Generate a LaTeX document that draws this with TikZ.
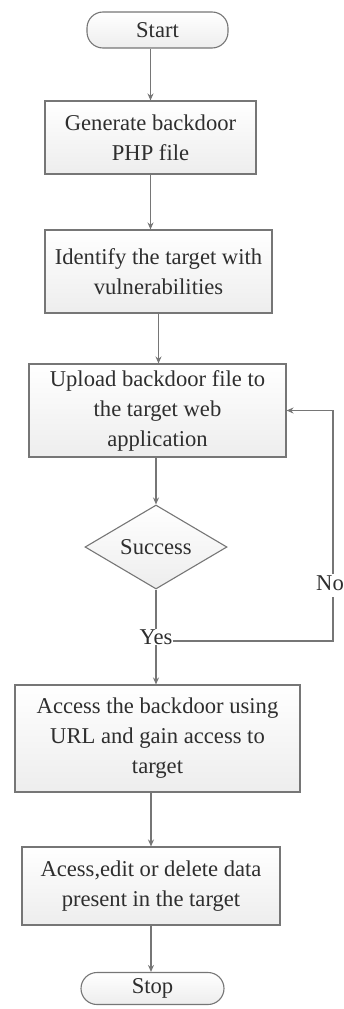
\documentclass[tikz,border=0pt]{standalone}
\usepackage{fontspec}
\setmainfont{Liberation Serif}
\usetikzlibrary{shapes.geometric,arrows.meta}
\definecolor{linegray}{HTML}{767676}
\definecolor{txtgray}{HTML}{2E2E2E}
\begin{document}
\begin{tikzpicture}[x=1pt,y=-1pt,
  every node/.style={text=txtgray,font=\fontsize{22.6}{30}\selectfont},
  procbox/.style={draw=linegray,line width=1.1pt,top color=white,bottom color=gray!14,
    align=center,inner sep=0pt},
  termbox/.style={procbox,rounded corners=16pt},
  decbox/.style={procbox,diamond,aspect=1.69,minimum width=142pt,minimum height=84pt},
  arr/.style={draw=linegray,line width=1.1pt,-{Stealth[length=7pt,width=6pt]}},
  ln/.style={draw=linegray,line width=1.1pt}]
\useasboundingbox (0,0) rectangle (343,1009);
\node[termbox,minimum width=141pt,minimum height=36pt] (start) at (157.5,30) {Start};
\node[procbox,minimum width=211pt,minimum height=73pt] (gen) at (150.5,137.5) {Generate backdoor\\PHP file};
\node[procbox,minimum width=227pt,minimum height=83pt] (ident) at (158.5,271.5) {Identify the target with\\vulnerabilities};
\node[procbox,minimum width=257pt,minimum height=93pt] (upload) at (157.5,410.5) {Upload backdoor file to\\the target web\\application};
\node[decbox] (dia) at (156,547) {Success};
\node[inner sep=0pt] (yes) at (156,637) {Yes};
\node[procbox,minimum width=285pt,minimum height=107pt] (access) at (157.5,738.5) {Access the backdoor using\\URL and gain access to\\target};
\node[procbox,minimum width=258pt,minimum height=78pt] (edit) at (151,886) {Acess,edit or delete data\\present in the target};
\node[termbox,minimum width=143pt,minimum height=32pt] (stop) at (152.5,988.5) {Stop};
\coordinate (c1) at (333,641);
\coordinate (c2) at (333,410.5);
\draw[arr] (gen.north |- start.south) -- (gen.north);
\draw[arr] (gen.south) -- (gen.south |- ident.north);
\draw[arr] (ident.south) -- (ident.south |- upload.north);
\draw[arr] (upload.south -| dia.north) -- (dia.north);
\draw[ln] (dia.south) -- (yes.north);
\draw[arr] (yes.south) -- (yes.south |- access.north);
\draw[arr] (edit.north |- access.south) -- (edit.north);
\draw[arr] (edit.south) -- (edit.south |- stop.north);
\draw[ln] (yes.east |- c1) -- (c1) -- (333,597);
\draw[arr] (333,574) -- (c2) -- (upload.east);
\node (no) at (330,583) {No};
\end{tikzpicture}
\end{document}
